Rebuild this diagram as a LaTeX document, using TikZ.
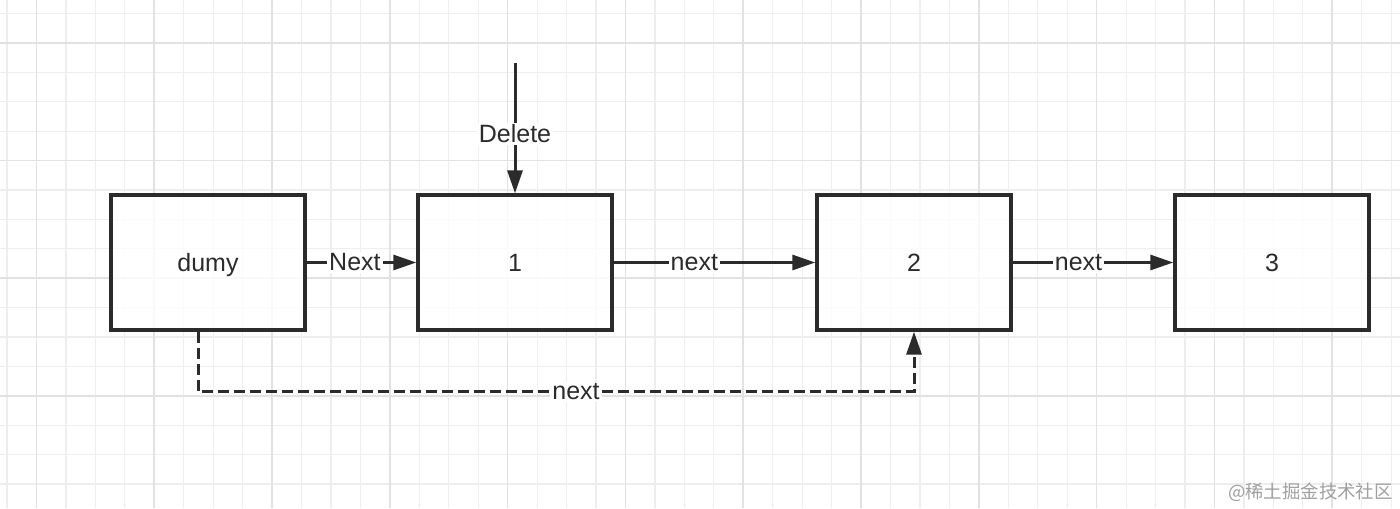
\documentclass[tikz,border=0pt]{standalone}
\usepackage{fontspec}
\setmainfont{Liberation Sans}
\newfontfamily\cjk{Noto Sans CJK SC}
\usetikzlibrary{arrows.meta}
\definecolor{gridminor}{HTML}{EEEEEE}
\definecolor{gridmajor}{HTML}{E2E2E2}
\definecolor{ink}{HTML}{2B2B2B}
\definecolor{wm}{HTML}{A0A0A0}
\tikzset{
  listbox/.style={draw=ink, line width=1.7pt, fill=white, fill opacity=0.8, text opacity=1,
    minimum width=97pt, minimum height=67.5pt, inner sep=0pt, font=\fontsize{12.5}{14}\selectfont, text=ink},
  arr/.style={draw=ink, line width=1.5pt, -{Triangle[length=11.5pt,width=7.5pt]}},
  lbl/.style={fill=white, inner sep=1pt, font=\fontsize{12.5}{14}\selectfont, text=ink},
  dashline/.style={dash pattern=on 5.5pt off 2.5pt}
}
\begin{document}
\begin{tikzpicture}[x=0.5pt, y=-0.5pt]
\useasboundingbox (0,0) rectangle (1400,508);
\fill[white] (0,0) rectangle (1400,508);
% grid
\foreach \k in {0,...,47} {
  \draw[gridminor, line width=0.6pt] ({7+29.45*\k},0) -- ({7+29.45*\k},508);
}
\foreach \k in {0,...,16} {
  \draw[gridminor, line width=0.6pt] (0,{13.5+29.4*\k}) -- (1400,{13.5+29.4*\k});
}
\foreach \k in {1,5,...,45} {
  \draw[gridmajor, line width=0.8pt] ({7+29.45*\k},0) -- ({7+29.45*\k},508);
}
\foreach \k in {1,5,...,17} {
  \draw[gridmajor, line width=0.8pt] (0,{13.5+29.4*\k}) -- (1400,{13.5+29.4*\k});
}
% nodes
\node[listbox] (dumy) at (208,262.5) {\raisebox{0pt}[\height][0pt]{dumy}};
\node[listbox] (n1) at (515,262.5) {1};
\node[listbox] (n2) at (914,262.5) {2};
\node[listbox] (n3) at (1272,262.5) {3};
\coordinate (dtop) at (515,63);
% connectors
\draw[arr] (dumy) -- node[lbl, pos=0.44]{Next} (n1);
\draw[arr] (n1) -- node[lbl, pos=0.4]{next} (n2);
\draw[arr] (n2) -- node[lbl, pos=0.41]{next} (n3);
\draw[arr] (dtop) -- node[lbl, pos=0.545]{Delete} (n1);
\draw[arr, dashline] ([xshift=-5pt]dumy.south) -- ++(0,60) -| node[lbl, pos=0.264]{next} (n2.south);
% watermark
\node[anchor=east, inner sep=0pt, text=wm, font=\cjk\fontsize{9.2}{10}\selectfont] (wmk) at (1393,492) {@稀土掘金技术社区};
\end{tikzpicture}
\end{document}
